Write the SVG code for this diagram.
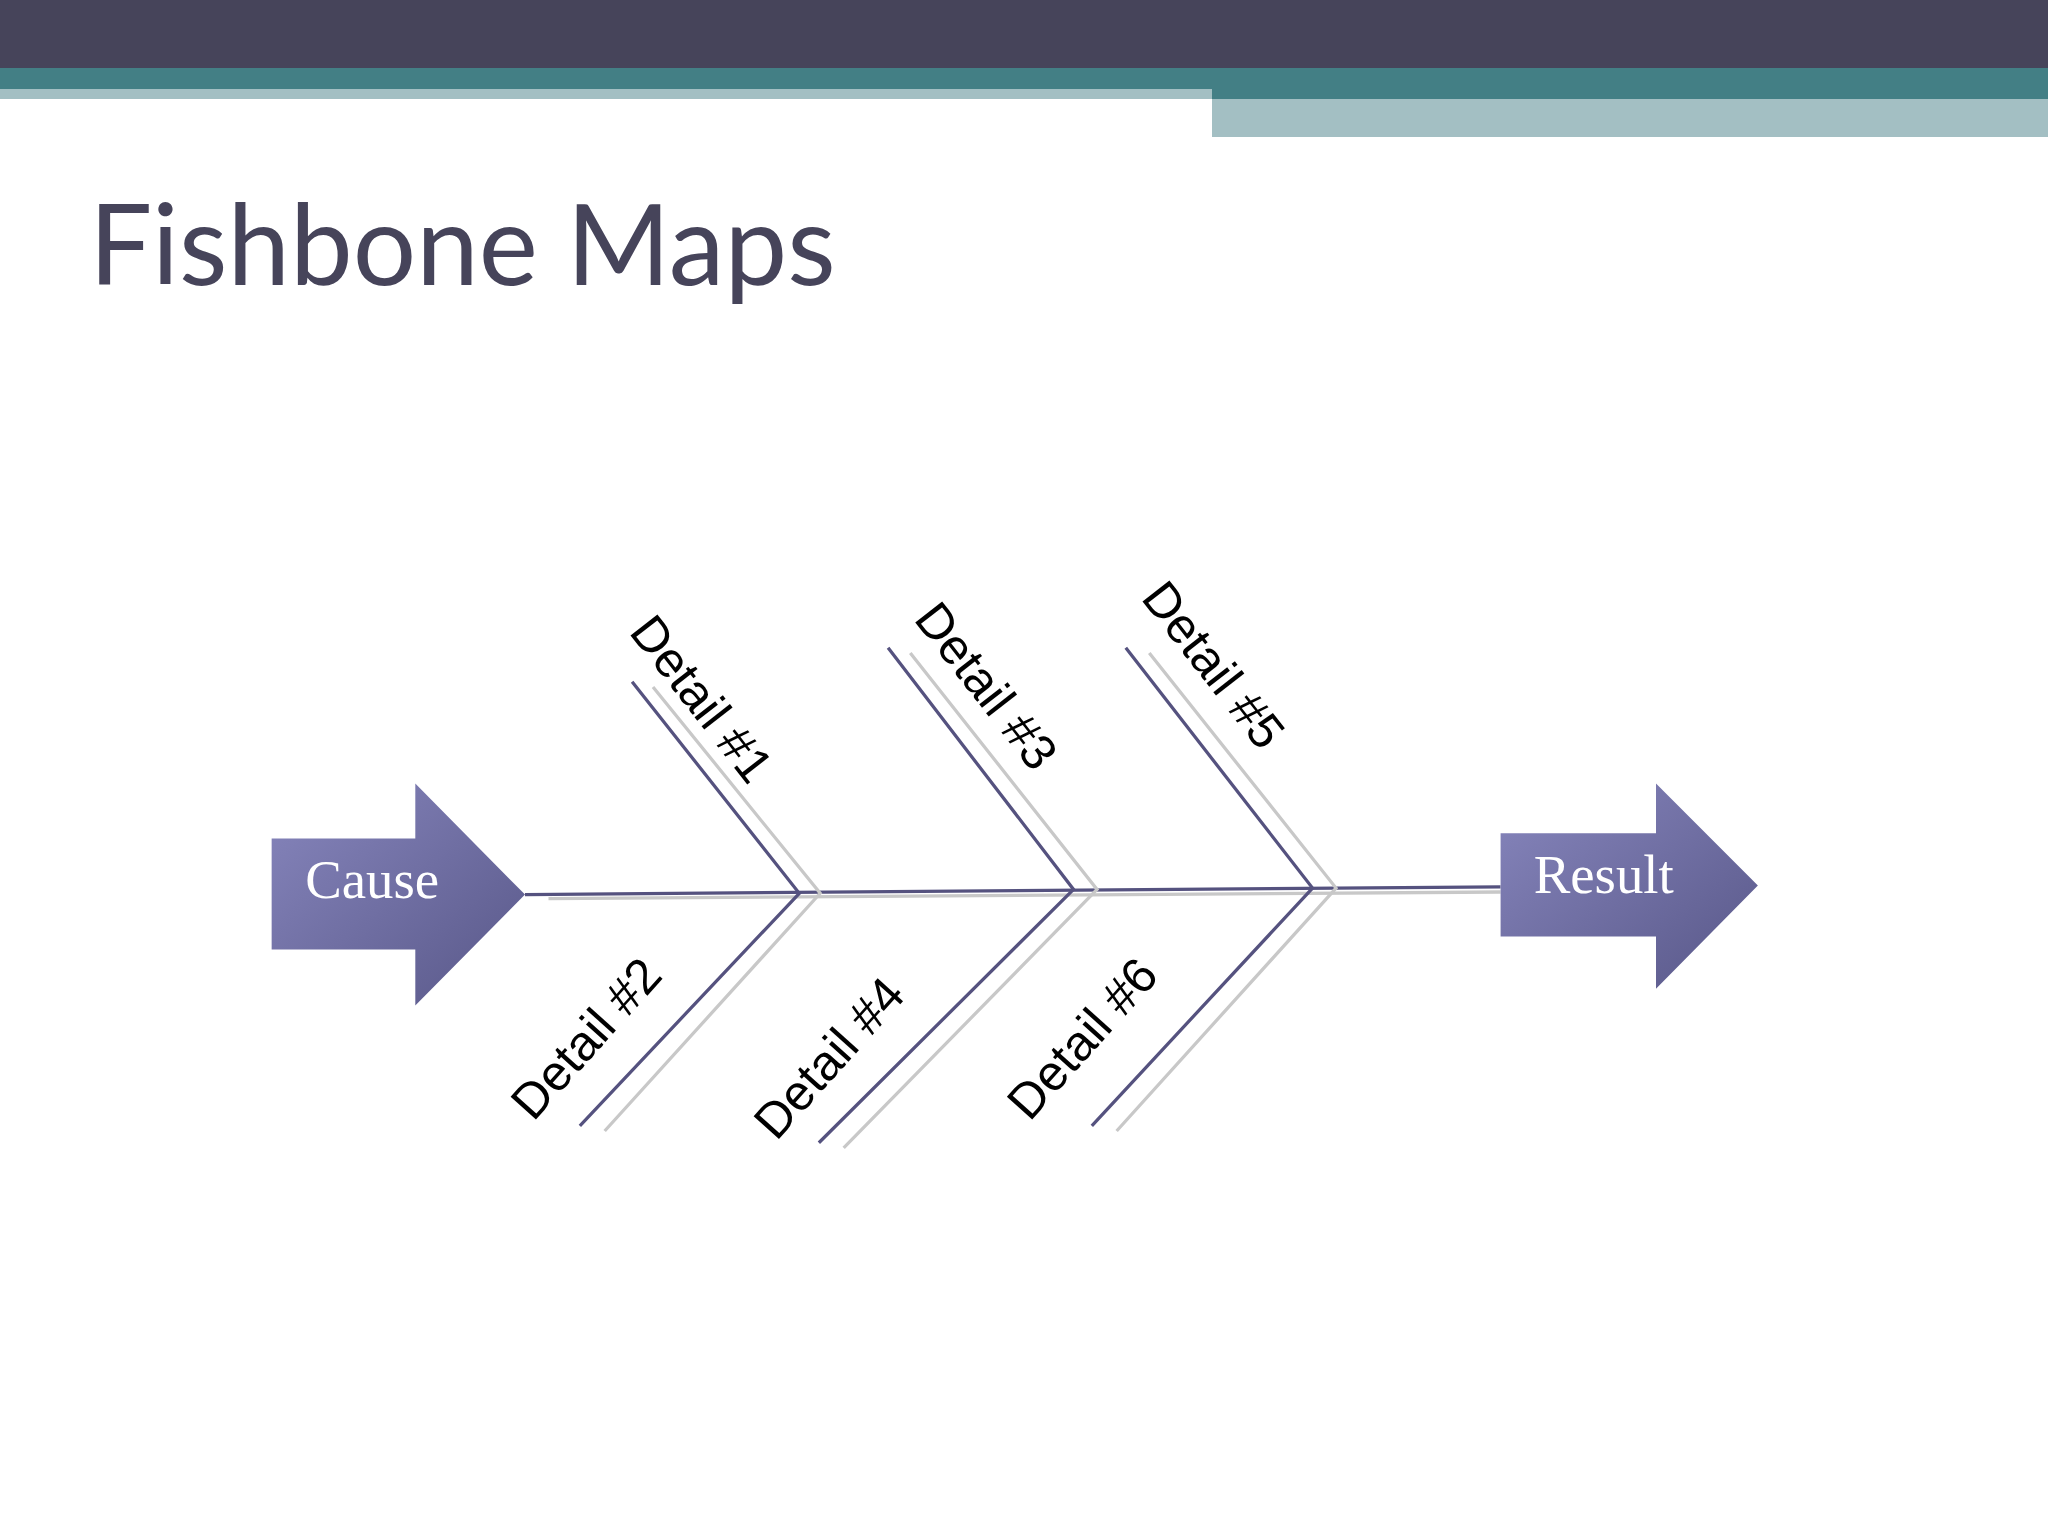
<svg xmlns="http://www.w3.org/2000/svg" width="2048" height="1536" viewBox="0 0 2048 1536">
<style>
.bone{stroke:#55527f;stroke-width:2.5;fill:none}
.shade{stroke:#c8c8c8;stroke-width:2.5;fill:none}
.lbl{font-family:"Liberation Sans",Arial,sans-serif;font-size:38px;fill:#000;text-anchor:middle;dominant-baseline:middle}
.arrowtxt{font-family:"Liberation Serif","Times New Roman",serif;font-size:42px;fill:#fff;text-anchor:middle;dominant-baseline:middle}
</style>
<defs>
<linearGradient id="g" x1="0" y1="0" x2="1" y2="1">
<stop offset="0" stop-color="#8786bd"/>
<stop offset="1" stop-color="#585788"/>
</linearGradient>
</defs>
<rect width="2048" height="1536" fill="#fff"/>
<rect x="0" y="0" width="2048" height="68" fill="#46445a"/>
<rect x="0" y="68" width="2048" height="21" fill="#437f85"/>
<rect x="0" y="89" width="1212" height="10" fill="#a3bfc3"/>
<rect x="1212" y="89" width="836" height="10" fill="#437f85"/>
<rect x="1212" y="99" width="836" height="38" fill="#a3bfc3"/>
<text x="89" y="285" font-family="Lato,'Open Sans',sans-serif" font-size="112" fill="#46445a">Fishbone Maps</text>
<g transform="scale(1.306)">
<g id="connectors">
<line class="shade" x1="420" y1="688" x2="1149" y2="683"/>
<line class="bone" x1="402" y1="685" x2="1149" y2="679"/>
<polyline class="shade" points="500,526 628,684 463,866"/>
<polyline class="bone" points="484,522 612,684 444,862"/>
<polyline class="shade" points="697,500 840,681 646,879"/>
<polyline class="bone" points="680,496 822,681 627,875"/>
<polyline class="shade" points="880,500 1023,680 855,866"/>
<polyline class="bone" points="862,496 1005,680 836,862"/>
</g>
<g id="cause">
<polygon points="208,642 318,642 318,600 402,685 318,770 318,727 208,727" fill="url(#g)"/>
<text class="arrowtxt" x="285" y="678">Cause</text>
</g>
<g id="result">
<polygon points="1149,638 1268,638 1268,600 1346,678 1268,757 1268,717 1149,717" fill="url(#g)"/>
<text class="arrowtxt" x="1228" y="674">Result</text>
</g>
<g id="d1"><text class="lbl" transform="translate(535,537) rotate(52)">Detail #1</text></g>
<g id="d3"><text class="lbl" transform="translate(753,527) rotate(52)">Detail #3</text></g>
<g id="d5"><text class="lbl" transform="translate(927,511) rotate(52)">Detail #5</text></g>
<g id="d2"><text class="lbl" transform="translate(451,797) rotate(-48)">Detail #2</text></g>
<g id="d4"><text class="lbl" transform="translate(637,812) rotate(-48)">Detail #4</text></g>
<g id="d6"><text class="lbl" transform="translate(831,797) rotate(-48)">Detail #6</text></g>
</g>
</svg>
